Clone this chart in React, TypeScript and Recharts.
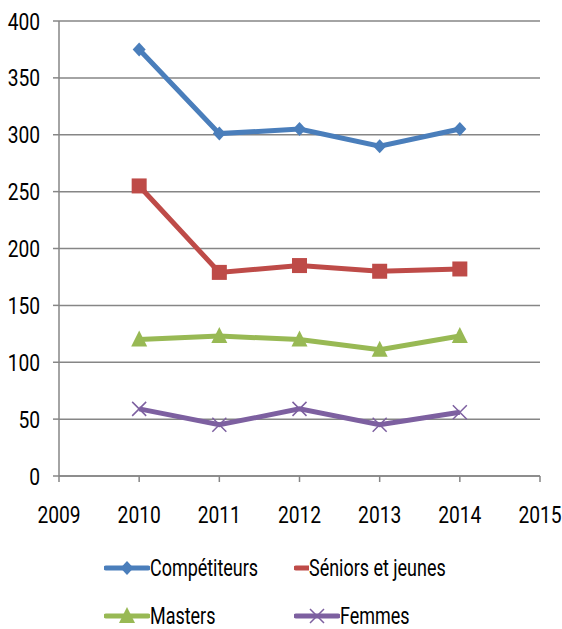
import React from "react";
import { LineChart, Line, XAxis, YAxis, CartesianGrid, Legend } from "recharts";

const years = [2010, 2011, 2012, 2013, 2014];
const competiteurs = [375, 301, 305, 290, 305];
const seniors = [255, 179, 185, 180, 182];
const masters = [120, 123, 120, 111, 123];
const femmes = [59, 45, 59, 45, 56];
const xTicks = [2009, 2010, 2011, 2012, 2013, 2014, 2015];
const yTicks = [0, 50, 100, 150, 200, 250, 300, 350, 400];

const data = years.map((year, i) => ({
  year,
  competiteurs: competiteurs[i],
  seniors: seniors[i],
  masters: masters[i],
  femmes: femmes[i],
}));

// narrow look (Calibri-ish) by squeezing Roboto horizontally
const FONT = "Roboto, 'Liberation Sans', sans-serif";
const GRID = "#868686";

const series = [
  { key: "competiteurs", name: "Compétiteurs", color: "#4a7ebb", shape: "diamond" },
  { key: "seniors", name: "Séniors et jeunes", color: "#be4b48", shape: "square" },
  { key: "masters", name: "Masters", color: "#98b954", shape: "triangle" },
  { key: "femmes", name: "Femmes", color: "#7d60a0", shape: "cross" },
];

function marker(shape: string, color: string, cx: number, cy: number, key?: string) {
  if (shape === "diamond") {
    return <path key={key} d={`M${cx},${cy - 7}L${cx + 6.5},${cy}L${cx},${cy + 7}L${cx - 6.5},${cy}Z`} fill={color} />;
  }
  if (shape === "square") {
    return <rect key={key} x={cx - 7.5} y={cy - 7.5} width={15} height={15} fill={color} />;
  }
  if (shape === "triangle") {
    return <path key={key} d={`M${cx},${cy - 9}L${cx + 8},${cy + 7}L${cx - 8},${cy + 7}Z`} fill={color} />;
  }
  return (
    <path
      key={key}
      d={`M${cx - 7},${cy - 7}L${cx + 7},${cy + 7}M${cx - 7},${cy + 7}L${cx + 7},${cy - 7}`}
      stroke={color}
      strokeWidth={1.5}
      fill="none"
    />
  );
}

const XTick = (props: any) => {
  const { x, y, payload } = props;
  return (
    <g transform={`translate(${x},${y})`}>
      <text transform="scale(0.8,1)" textAnchor="middle" dy="0.71em" fontSize={24} fontFamily={FONT} fill="#000">
        {payload.value}
      </text>
    </g>
  );
};

const YTick = (props: any) => {
  const { x, y, payload } = props;
  return (
    <g transform={`translate(${x},${y})`}>
      <text transform="scale(0.8,1)" textAnchor="end" dy="0.355em" fontSize={24} fontFamily={FONT} fill="#000">
        {payload.value}
      </text>
    </g>
  );
};

function LegendContent() {
  const item = (s: (typeof series)[number]) => (
    <div key={s.key} style={{ display: "flex", alignItems: "center", width: 190, whiteSpace: "nowrap" }}>
      <svg width={46} height={20}>
        <line x1={2} y1={10} x2={44} y2={10} stroke={s.color} strokeWidth={5} strokeLinecap="round" />
        {marker(s.shape, s.color, 23, 10)}
      </svg>
      <span
        style={{
          display: "inline-block",
          fontFamily: FONT,
          fontSize: 23,
          lineHeight: 1,
          color: "#000",
          transform: "scaleX(0.78)",
          transformOrigin: "left center",
        }}
      >
        {s.name}
      </span>
    </div>
  );
  return (
    <div style={{ position: "absolute", left: 104, top: 0 }}>
      <div style={{ display: "flex", height: 50, alignItems: "center" }}>
        {item(series[0])}
        {item(series[1])}
      </div>
      <div style={{ display: "flex", height: 46, alignItems: "center" }}>
        {item(series[2])}
        {item(series[3])}
      </div>
    </div>
  );
}

export default function App() {
  return (
    <div style={{ position: "absolute", left: 0, top: 0, background: "#fff" }}>
      <LineChart width={562} height={629} data={data} margin={{ top: 21, right: 22, left: 0, bottom: 93 }}>
        <CartesianGrid vertical={false} stroke={GRID} strokeWidth={1.5} />
        <XAxis
          dataKey="year"
          type="number"
          domain={[2009, 2015]}
          ticks={xTicks}
          height={60}
          stroke={GRID}
          strokeWidth={1.5}
          tickSize={6}
          tickMargin={24}
          tick={<XTick />}
        />
        <YAxis
          type="number"
          domain={[0, 400]}
          ticks={yTicks}
          width={59}
          stroke={GRID}
          strokeWidth={1.5}
          tickSize={6}
          tickMargin={13}
          tick={<YTick />}
        />
        <Legend
          verticalAlign="bottom"
          wrapperStyle={{ position: "absolute", left: 0, top: 543, width: 562 }}
          content={() => <LegendContent />}
        />
        {series.map((s) => (
          <Line
            key={s.key}
            dataKey={s.key}
            name={s.name}
            stroke={s.color}
            strokeWidth={5}
            isAnimationActive={false}
            dot={(p: any) => marker(s.shape, s.color, p.cx, p.cy, `${s.key}-${p.index}`)}
            activeDot={false}
          />
        ))}
      </LineChart>
    </div>
  );
}
